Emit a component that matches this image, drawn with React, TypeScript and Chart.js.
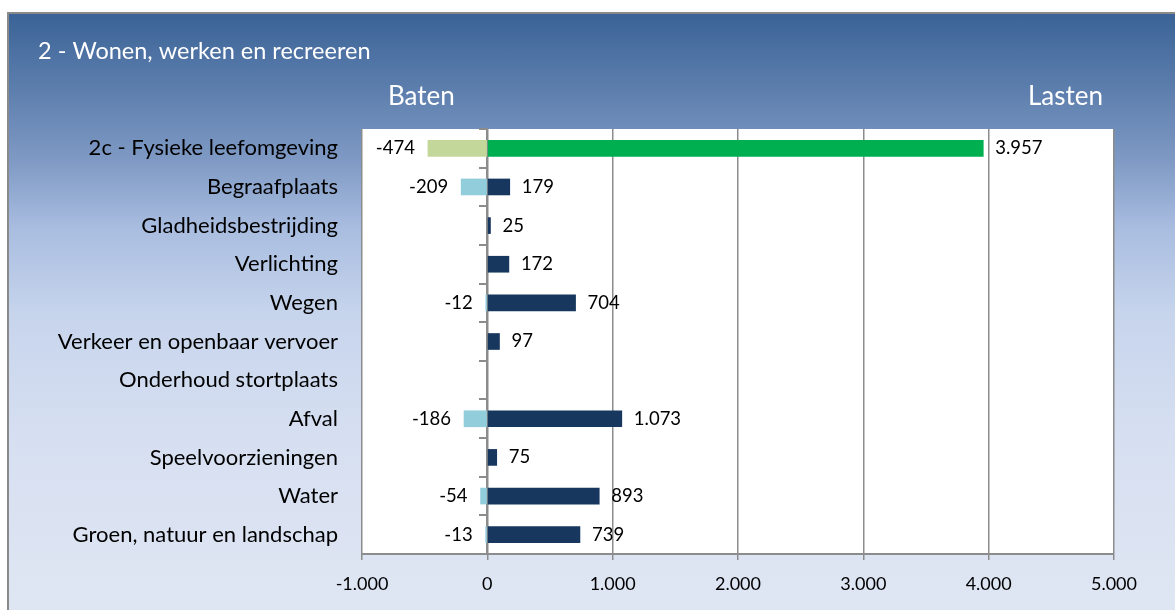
import React, { useEffect, useRef } from "react";
import { Chart, registerables } from "chart.js";

Chart.register(...registerables);

const categories = [
  "2c - Fysieke leefomgeving",
  "Begraafplaats",
  "Gladheidsbestrijding",
  "Verlichting",
  "Wegen",
  "Verkeer en openbaar vervoer",
  "Onderhoud stortplaats",
  "Afval",
  "Speelvoorzieningen",
  "Water",
  "Groen, natuur en landschap",
];

const baten: (number | null)[] = [-474, -209, null, null, -12, null, null, -186, null, -54, -13];
const lasten: (number | null)[] = [3957, 179, 25, 172, 704, 97, null, 1073, 75, 893, 739];

const xTicks = [-1000, 0, 1000, 2000, 3000, 4000, 5000];

const TITLE = "2 - Wonen, werken en recreeren";
const LEFT_HEADER = "Baten";
const RIGHT_HEADER = "Lasten";

const FONT = "Lato, 'Open Sans', sans-serif";

function fmt(v: number): string {
  const neg = v < 0;
  const s = Math.abs(Math.round(v)).toString();
  const withDots = s.replace(/\B(?=(\d{3})+(?!\d))/g, ".");
  return (neg ? "-" : "") + withDots;
}

const plotBackground = {
  id: "plotBackground",
  beforeDraw(chart: any) {
    const { ctx, chartArea } = chart;
    ctx.save();
    ctx.fillStyle = "#ffffff";
    ctx.fillRect(chartArea.left, chartArea.top, chartArea.right - chartArea.left, chartArea.bottom - chartArea.top);
    ctx.restore();
  },
};

const headerPlugin = {
  id: "headerPlugin",
  afterDraw(chart: any) {
    const { ctx, chartArea } = chart;
    ctx.save();
    ctx.fillStyle = "#ffffff";
    ctx.textBaseline = "middle";
    ctx.font = `23.5px ${FONT}`;
    ctx.textAlign = "left";
    ctx.fillText(TITLE, 29, 37);
    ctx.font = `26px ${FONT}`;
    ctx.fillText(LEFT_HEADER, chartArea.left + 26, 83);
    ctx.textAlign = "right";
    ctx.fillText(RIGHT_HEADER, chartArea.right - 11, 83);
    ctx.restore();
  },
};

const valueLabels = {
  id: "valueLabels",
  afterDatasetsDraw(chart: any) {
    const ctx = chart.ctx;
    ctx.save();
    ctx.font = `18.5px ${FONT}`;
    ctx.fillStyle = "#000000";
    ctx.textBaseline = "middle";
    chart.data.datasets.forEach((ds: any, di: number) => {
      const meta = chart.getDatasetMeta(di);
      meta.data.forEach((el: any, i: number) => {
        const v = ds.data[i];
        if (v == null) return;
        const { x, y } = el.getProps(["x", "y"], true);
        if (v < 0) {
          ctx.textAlign = "right";
          ctx.fillText(fmt(v), x - 13, y);
        } else {
          ctx.textAlign = "left";
          ctx.fillText(fmt(v), x + 12, y);
        }
      });
    });
    ctx.restore();
  },
};

export default function App() {
  const canvasRef = useRef<HTMLCanvasElement | null>(null);

  useEffect(() => {
    if (!canvasRef.current) return;
    const chart = new Chart(canvasRef.current, {
      type: "bar",
      data: {
        labels: categories,
        datasets: [
          {
            label: "Baten",
            data: baten,
            backgroundColor: (c: any) => (c.dataIndex === 0 ? "#c4d79b" : "#92cddc"),
            barThickness: 16,
            borderWidth: 0,
          },
          {
            label: "Lasten",
            data: lasten,
            backgroundColor: (c: any) => (c.dataIndex === 0 ? "#00b050" : "#17375e"),
            barThickness: 16,
            borderWidth: 0,
          },
        ],
      },
      options: {
        indexAxis: "y",
        responsive: false,
        animation: false,
        layout: { padding: { top: 115, right: 61, left: 0, bottom: 0 } },
        plugins: {
          legend: { display: false },
          tooltip: { enabled: false },
          title: { display: false },
        },
        scales: {
          x: {
            type: "linear",
            min: -1000,
            max: 5000,
            stacked: true,
            afterBuildTicks: (s: any) => {
              s.ticks = xTicks.map((v) => ({ value: v }));
            },
            ticks: {
              callback: (v: any) => fmt(Number(v)),
              font: { family: FONT, size: 18 },
              color: "#000000",
              padding: 13,
              maxRotation: 0,
            },
            grid: { color: "#8c8c8c", lineWidth: 1.5, tickLength: 6, drawTicks: true },
            border: { display: true, color: "#8c8c8c", width: 2 },
            afterFit: (s: any) => {
              s.height = 56;
            },
          },
          y: {
            type: "category",
            stacked: true,
            position: "left",
            grid: { display: false, drawTicks: false },
            border: { display: false },
            ticks: { font: { family: FONT, size: 22 }, color: "#000000", padding: 24, autoSkip: false },
            afterFit: (s: any) => {
              s.width = 353;
            },
          },
          y2: {
            type: "category",
            axis: "y",
            position: { x: 0 },
            offset: true,
            grid: { drawOnChartArea: false, offset: true, tickLength: 7, color: "#8c8c8c", lineWidth: 2 },
            border: { display: true, color: "#8c8c8c", width: 2 },
            ticks: { display: false },
          },
        },
      } as any,
      plugins: [plotBackground, headerPlugin, valueLabels],
    });
    return () => chart.destroy();
  }, []);

  return (
    <div
      style={{
        position: "absolute",
        left: 0,
        top: 0,
        width: 1175,
        height: 610,
        background: "#ffffff",
        overflow: "hidden",
      }}
    >
      <div
        style={{
          position: "absolute",
          left: 7,
          top: 12,
          width: 1168,
          height: 598,
          boxSizing: "border-box",
          borderLeft: "2px solid #8a8a8a",
          borderTop: "2px solid #8a8a8a",
          background:
            "linear-gradient(to bottom, #3b6397 0%, #5b7dac 12%, #7d98c3 24%, #a9bde0 36%, #c6d4ec 50%, #d6dff1 70%, #dfe6f3 100%)",
        }}
      >
        <canvas ref={canvasRef} width={1166} height={596} style={{ display: "block" }} />
      </div>
    </div>
  );
}
